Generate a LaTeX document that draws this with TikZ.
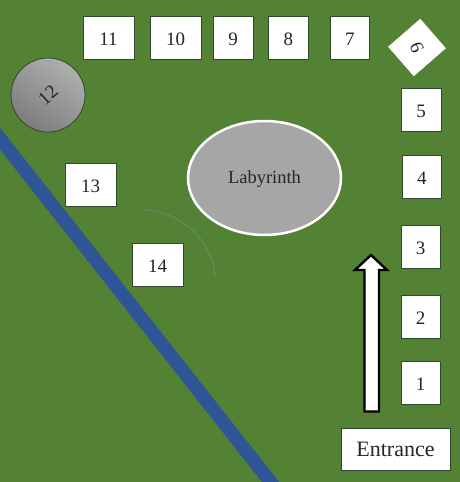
\documentclass[tikz,border=0pt]{standalone}
\usepackage{fontspec}
\usetikzlibrary{shapes.geometric}
\setmainfont{Liberation Serif}
\definecolor{grassgreen}{HTML}{548235}
\definecolor{riverblue}{HTML}{2F5597}
\definecolor{stonegray}{HTML}{A6A6A6}
\definecolor{boxedge}{HTML}{2F4A2A}
\definecolor{trailgray}{HTML}{5F8A5E}
\newcommand{\boxat}[6]{\node[plotbox,minimum width=#3pt-#1pt,minimum height=#4pt-#2pt] (#5) at ({(#1+#3)/2},{-(#2+#4)/2}) {#6};}
\newcommand{\lowered}[1]{\raisebox{-1.5pt}[\height][\depth]{#1}}
\tikzset{
  plotbox/.style={draw=boxedge,line width=0.8pt,fill=white,inner sep=0pt,outer sep=0pt,font=\fontsize{19}{19}\selectfont,text=black!85},
}
\begin{document}
\begin{tikzpicture}[x=1pt,y=1pt]
\useasboundingbox (0,0) rectangle (460,-482);
\fill[grassgreen] (0,0) rectangle (460,-482);
% river
\coordinate (riverA) at (-6,-131);
\coordinate (riverB) at (276,-489);
\begin{scope}
\clip (0,0) rectangle (460,-482);
\draw[riverblue,line width=13.5pt] (riverA) -- (riverB);
\end{scope}
% faint trail
\draw[trailgray,line width=1.4pt] (146,-210) .. controls (180,-212) and (213,-240) .. (215,-277);
% labyrinth
\node[ellipse,draw=white,line width=2.5pt,fill=stonegray,minimum width=153pt,minimum height=114pt,inner sep=0pt,font=\fontsize{18.5}{18.5}\selectfont,text=black!85] (lab) at (264.5,-178) {\lowered{Labyrinth}};
% circle 12
\node[circle,draw=boxedge,line width=0.8pt,top color=stonegray!90!white,bottom color=stonegray!75!black,shading angle=-35,minimum size=74pt,inner sep=0pt,font=\fontsize{19}{19}\selectfont,text=black!85] (c12) at (48,-95) {\rotatebox{42}{12}};
% boxes
\boxat{83}{16}{134}{59}{b11}{\lowered{11}}
\boxat{150}{16}{201}{59}{b10}{\lowered{10}}
\boxat{213}{16}{253}{59}{b9}{\lowered{9}}
\boxat{268.5}{16}{308}{59}{b8}{\lowered{8}}
\boxat{330.5}{16}{369}{59}{b7}{\lowered{7}}
\boxat{401}{88}{441}{131}{b5}{\lowered{5}}
\boxat{402}{155}{441.5}{198}{b4}{\lowered{4}}
\boxat{401}{225}{440}{268}{b3}{\lowered{3}}
\boxat{401}{295}{440}{338}{b2}{\lowered{2}}
\boxat{401}{361}{440}{404}{b1}{\lowered{1}}
\boxat{341}{428}{450}{470}{ent}{\fontsize{22}{22}\selectfont Entrance}
\boxat{65}{163}{116}{206}{b13}{\lowered{13}}
\boxat{132}{243}{183}{286}{b14}{\lowered{14}}
% diamond 6
\node[draw=white,line width=0.5pt,fill=white,rotate=41,minimum width=42pt,minimum height=38.5pt,inner sep=0pt,font=\fontsize{19}{19}\selectfont,text=black!85] (d6) at (417,-47.5) {\rotatebox{-109}{6}};
% arrow
\draw[black,line width=2.4pt,fill=white,miter limit=6] (364.5,-411.5) -- (364.5,-270) -- (355,-270) -- (371,-255) -- (387,-270) -- (379,-270) -- (379,-411.5) -- cycle;
\end{tikzpicture}
\end{document}
